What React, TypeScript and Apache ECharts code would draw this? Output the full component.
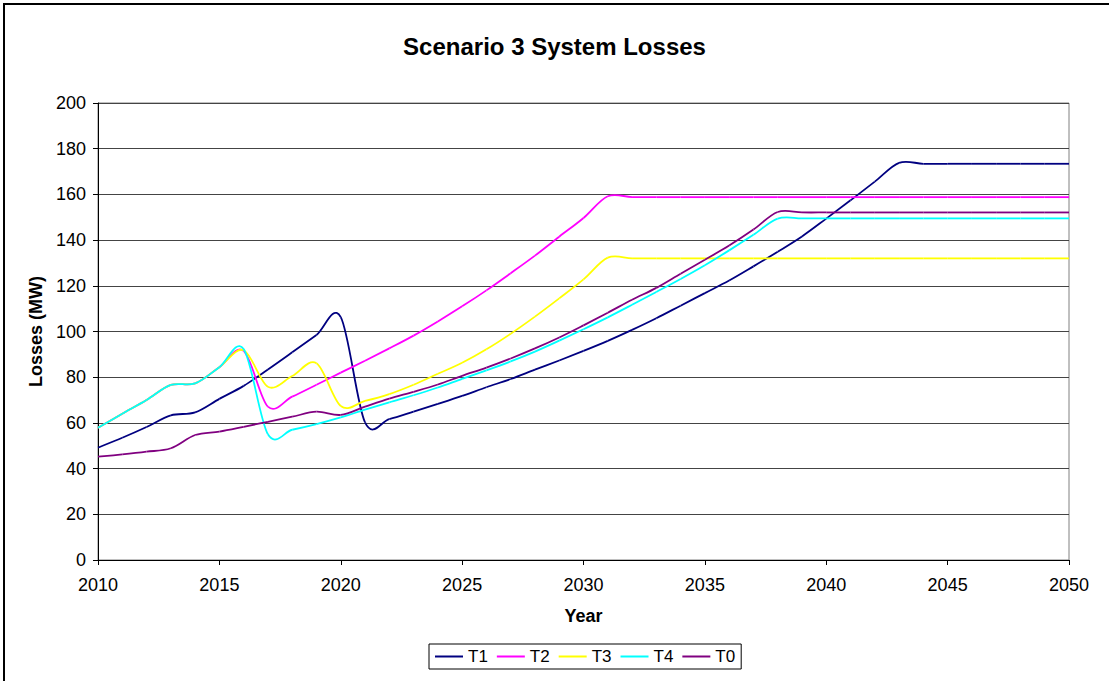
import React, { useEffect, useRef } from 'react';
import * as echarts from 'echarts';

const FONT = '"Liberation Sans", Arial, Helvetica, sans-serif';

// Years on the horizontal axis, one value per year
const years: number[] = Array.from({ length: 41 }, (_, i) => 2010 + i);

// Losses (MW) per scenario
const t1 = [
  49.2, 53.5, 58.2, 63.3, 64.6, 70.5, 76.2, 83.4, 90.9, 98.5, 106.3,
  60.2, 61.7, 64.9, 68.3, 71.8, 75.6, 79.2, 83.3, 87.3, 91.5,
  95.9, 100.7, 105.8, 111.3, 116.8, 122.3, 128.5, 134.9, 141.6, 149.4,
  157.4, 165.6, 173.8, 173.4, 173.4, 173.4, 173.4, 173.4, 173.4, 173.4,
];
const t2 = [
  57.9, 64.0, 70.0, 76.6, 77.3, 84.4, 91.5, 67.1, 71.5, 76.7, 82.0,
  87.2, 92.6, 98.2, 104.4, 111.0, 118.0, 125.5, 133.2, 141.5, 149.7,
  159.2, 158.8, 158.8, 158.8, 158.8, 158.8, 158.8, 158.8, 158.8, 158.8,
  158.8, 158.8, 158.8, 158.8, 158.8, 158.8, 158.8, 158.8, 158.8, 158.8,
];
const t3 = [
  57.9, 64.0, 70.0, 76.6, 77.3, 84.4, 91.8, 75.8, 80.5, 86.1, 67.4,
  69.6, 72.6, 76.7, 81.5, 86.3, 92.2, 99.0, 106.5, 114.5, 122.8,
  132.3, 132.0, 132.0, 132.0, 132.0, 132.0, 132.0, 132.0, 132.0, 132.0,
  132.0, 132.0, 132.0, 132.0, 132.0, 132.0, 132.0, 132.0, 132.0, 132.0,
];
const t4 = [
  57.9, 64.0, 70.0, 76.6, 77.3, 84.4, 92.3, 55.0, 57.0, 59.5, 62.4,
  65.8, 69.0, 72.1, 75.5, 79.3, 83.0, 86.9, 91.2, 96.0, 101.0,
  106.2, 111.7, 117.3, 123.0, 129.0, 135.5, 142.3, 149.4, 149.5, 149.5,
  149.5, 149.5, 149.5, 149.5, 149.5, 149.5, 149.5, 149.5, 149.5, 149.5,
];
const t0 = [
  45.2, 46.2, 47.4, 48.9, 54.7, 56.2, 58.3, 60.5, 62.7, 64.9, 63.5,
  67.1, 70.6, 73.6, 76.8, 80.6, 84.2, 88.2, 92.6, 97.4, 102.7,
  108.2, 113.9, 119.1, 125.3, 131.4, 137.6, 144.6, 152.3, 152.1, 152.1,
  152.1, 152.1, 152.1, 152.1, 152.1, 152.1, 152.1, 152.1, 152.1, 152.1,
];

const seriesNames = ['T1', 'T2', 'T3', 'T4', 'T0'];
const seriesValues = [t1, t2, t3, t4, t0];
const seriesColors = ['#000080', '#FF00FF', '#FFFF00', '#00FFFF', '#800080'];

// Smoothed line: each segment is a cubic Bezier through neighbouring points
// (Catmull-Rom style tangents), positioned with the chart's own axes.
function smoothSegment(values: number[], color: string) {
  return (params: any, api: any) => {
    const i = params.dataIndex;
    const n = values.length;
    if (i >= n - 1) return null;
    const pt = (k: number) => {
      const j = Math.max(0, Math.min(n - 1, k));
      return api.coord([years[j], values[j]]);
    };
    const p0 = pt(i - 1);
    const p1 = pt(i);
    const p2 = pt(i + 1);
    const p3 = pt(i + 2);
    return {
      type: 'bezierCurve',
      shape: {
        x1: p1[0],
        y1: p1[1],
        x2: p2[0],
        y2: p2[1],
        cpx1: p1[0] + (p2[0] - p0[0]) / 6,
        cpy1: p1[1] + (p2[1] - p0[1]) / 6,
        cpx2: p2[0] - (p3[0] - p1[0]) / 6,
        cpy2: p2[1] - (p3[1] - p1[1]) / 6,
      },
      style: { stroke: color, lineWidth: 1.8, fill: 'none' },
      silent: true,
    };
  };
}

export default function App() {
  const ref = useRef<HTMLDivElement>(null);

  useEffect(() => {
    if (!ref.current) return;
    const chart = echarts.init(ref.current, undefined, { renderer: 'svg' });

    const series = seriesNames.map((name, s) => ({
      name,
      type: 'custom',
      renderItem: smoothSegment(seriesValues[s], seriesColors[s]),
      data: seriesValues[s].map((v, i) => [years[i], v]),
      encode: { x: 0, y: 1 },
      itemStyle: { color: seriesColors[s] },
      z: 3 + s,
    }));

    chart.setOption({
      animation: false,
      backgroundColor: '#ffffff',
      title: {
        text: 'Scenario 3 System Losses',
        left: 'center',
        top: 29,
        textStyle: { fontFamily: FONT, fontSize: 24, fontWeight: 'bold', color: '#000' },
      },
      grid: {
        left: 98,
        right: 40,
        top: 103,
        bottom: 121,
        show: true,
        borderColor: '#808080',
        borderWidth: 1,
        backgroundColor: 'transparent',
      },
      xAxis: {
        type: 'value',
        min: 2010,
        max: 2050,
        interval: 5,
        name: 'Year',
        nameLocation: 'middle',
        nameGap: 47,
        nameTextStyle: { fontFamily: FONT, fontSize: 18, fontWeight: 'bold', color: '#000' },
        axisLine: { show: true, onZero: false, lineStyle: { color: '#000', width: 1 } },
        axisTick: { show: true, length: 5, lineStyle: { color: '#000' } },
        axisLabel: {
          fontFamily: FONT,
          fontSize: 18,
          color: '#000',
          margin: 16,
          formatter: (v: number) => String(v),
        },
        splitLine: { show: false },
      },
      yAxis: {
        type: 'value',
        min: 0,
        max: 200,
        interval: 20,
        name: 'Losses (MW)',
        nameLocation: 'middle',
        nameGap: 51,
        nameRotate: 90,
        nameTextStyle: { fontFamily: FONT, fontSize: 18, fontWeight: 'bold', color: '#000' },
        axisLine: { show: true, lineStyle: { color: '#000', width: 1 } },
        axisTick: { show: true, length: 5, lineStyle: { color: '#000' } },
        axisLabel: { fontFamily: FONT, fontSize: 18, color: '#000', margin: 12 },
        splitLine: { show: true, lineStyle: { color: '#444', width: 1 } },
      },
      legend: {
        left: 429,
        top: 644,
        orient: 'horizontal',
        padding: [4, 6, 4, 6],
        itemGap: 9,
        itemWidth: 28,
        itemHeight: 2,
        borderColor: '#000',
        borderWidth: 1,
        backgroundColor: '#fff',
        textStyle: { fontFamily: FONT, fontSize: 17, color: '#000' },
        data: seriesNames.map((name, s) => ({
          name,
          icon: 'rect',
          itemStyle: { color: seriesColors[s] },
        })),
      },
      graphic: [
        {
          type: 'rect',
          silent: true,
          shape: { x: 4, y: 4, width: 1300, height: 900 },
          style: { fill: 'none', stroke: '#000', lineWidth: 2 },
          z: 100,
        },
      ],
      series,
    });

    return () => chart.dispose();
  }, []);

  return (
    <div
      ref={ref}
      style={{ position: 'fixed', left: 0, top: 0, width: 1109, height: 681, background: '#fff' }}
    />
  );
}
